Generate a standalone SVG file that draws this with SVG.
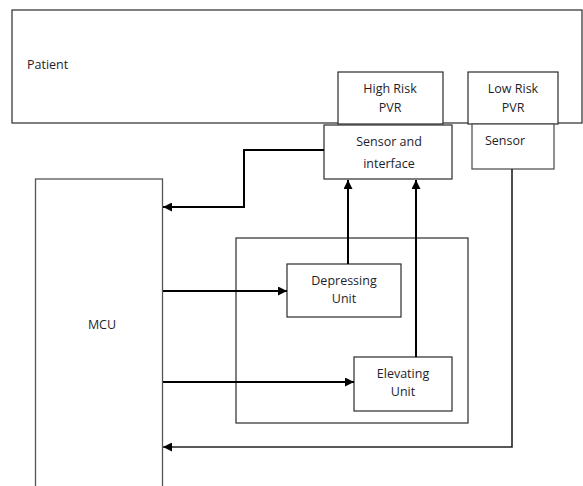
<svg xmlns="http://www.w3.org/2000/svg" width="583" height="486" viewBox="0 0 583 486">
<defs>
<marker id="ah" viewBox="0 0 10 10" refX="10" refY="5" markerWidth="9" markerHeight="9" markerUnits="userSpaceOnUse" orient="auto">
<path d="M0,0 L10,5 L0,10 Z" fill="#000"/>
</marker>
<style>
.box{fill:#fff;stroke:#2a2a2a;stroke-width:1.2}
.gbox{fill:#fff;stroke:#555;stroke-width:1.3}
.t{font-family:"Open Sans","Noto Sans","Liberation Sans",sans-serif;font-size:12.5px;fill:#1e1e2a}
.m{text-anchor:middle}
.c{fill:none;stroke:#000;stroke-width:2}
.c1{fill:none;stroke:#222;stroke-width:1.6}
</style>
</defs>
<rect width="583" height="486" fill="#fff"/>
<g id="patient">
<rect class="box" x="12" y="10" width="570" height="113"/>
<text class="t" x="27" y="69">Patient</text>
</g>
<g id="high-risk-pvr">
<rect class="box" x="338" y="72" width="105" height="52"/>
<text class="t m" x="390" y="93">High Risk</text>
<text class="t m" x="390" y="112">PVR</text>
</g>
<g id="low-risk-pvr">
<rect class="box" x="468" y="72" width="90" height="52"/>
<text class="t m" x="513" y="93">Low Risk</text>
<text class="t m" x="513" y="112">PVR</text>
</g>
<g id="sensor-interface">
<rect class="box" x="324" y="125" width="128" height="54"/>
<text class="t m" x="389" y="146">Sensor and</text>
<text class="t m" x="389" y="168">interface</text>
</g>
<g id="sensor">
<rect class="gbox" x="472" y="124" width="82" height="45"/>
<text class="t" x="485" y="145">Sensor</text>
</g>
<g id="mcu">
<rect class="gbox" x="35.5" y="179" width="127" height="320"/>
<text class="t m" x="102" y="329">MCU</text>
</g>
<g id="unit-group">
<rect class="box" x="236" y="238" width="232" height="185"/>
</g>
<g id="depressing-unit">
<rect class="box" x="287" y="264" width="114" height="53"/>
<text class="t m" x="344" y="285">Depressing</text>
<text class="t m" x="344" y="303">Unit</text>
</g>
<g id="elevating-unit">
<rect class="box" x="354" y="357" width="98" height="54"/>
<text class="t m" x="403" y="378">Elevating</text>
<text class="t m" x="403" y="396">Unit</text>
</g>
<g id="connectors">
<path class="c" d="M324,150 H244 V207 H163" marker-end="url(#ah)"/>
<path class="c" d="M348,264 V180" marker-end="url(#ah)"/>
<path class="c" d="M416,357 V180" marker-end="url(#ah)"/>
<path class="c" d="M163,291 H287" marker-end="url(#ah)"/>
<path class="c" d="M163,382 H354" marker-end="url(#ah)"/>
<path class="c1" d="M512,169 V447 H163" marker-end="url(#ah)"/>
</g>
</svg>
